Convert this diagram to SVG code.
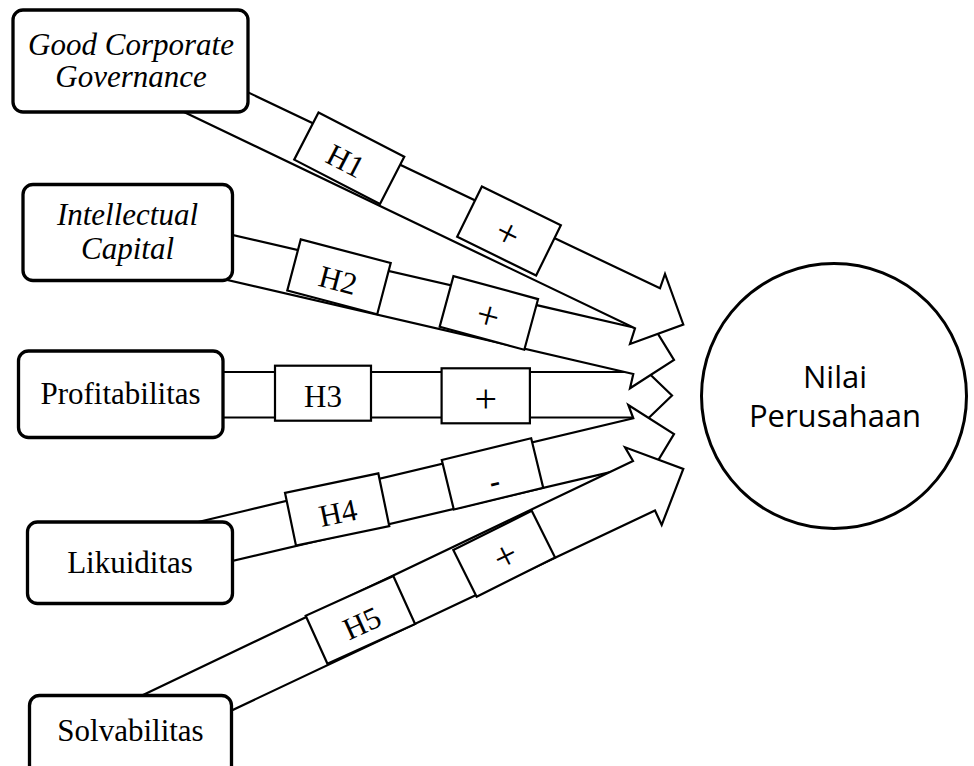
<svg xmlns="http://www.w3.org/2000/svg" width="974" height="766" viewBox="0 0 974 766">
<style>
.box{fill:#fff;stroke:#000;stroke-width:3.3}
.t{font-family:"Liberation Serif","Times New Roman",serif;font-size:31px;fill:#000;text-anchor:middle}
.i{font-style:italic}
.p{font-size:40px}
.arrow{fill:#fff;stroke:#000;stroke-width:2.2;stroke-linejoin:miter}
.lbl rect{fill:#fff;stroke:#000;stroke-width:2.2}
.sans{font-family:"Open Sans","Noto Sans",sans-serif;font-size:31px;fill:#000;text-anchor:middle}
</style>
<rect width="974" height="766" fill="#fff"/>
<g id="connectors">
  <g id="arrow-H3">
    <polygon class="arrow" points="150,372 632,372 632,357 672,395.5 632,434 632,417.5 150,417.5"/>
    <g class="lbl" transform="translate(323,393.2)"><rect x="-48" y="-27.5" width="96" height="55"/><text class="t" x="0" y="13.5">H3</text></g>
    <g class="lbl" transform="translate(485.8,395.8)"><rect x="-44.2" y="-27.5" width="88.3" height="55"/><text class="t p" x="0" y="16">+</text></g>
  </g>
  <g id="arrow-H2">
    <polygon class="arrow" points="150,216 643.4,329.7 646.6,315.4 674,360 630,388.3 633.3,374 140,259.7"/>
    <g class="lbl" transform="translate(339,276.8) rotate(14.75)"><rect x="-46.5" y="-26.5" width="93" height="53"/><text class="t" x="0" y="14">H2</text></g>
    <g class="lbl" transform="translate(488.9,313) rotate(15.2)"><rect x="-43.9" y="-26.3" width="87.7" height="52.5"/><text class="t p" x="0" y="16">+</text></g>
  </g>
  <g id="arrow-H4">
    <polygon class="arrow" points="150,533.5 633.3,418.3 628.3,405 674,434 646.1,480.4 642.4,464.6 160,578"/>
    <g class="lbl" transform="translate(337.2,509.4) rotate(-11.75)"><rect x="-47.7" y="-26.9" width="95.3" height="53.8"/><text class="t" x="0" y="14">H4</text></g>
    <g class="lbl" transform="translate(492.5,473.9) rotate(-13.66)"><rect x="-46" y="-25.5" width="92" height="51"/><text class="t" x="0" y="18" style="font-weight:bold">-</text></g>
  </g>
  <g id="arrow-H1">
    <polygon class="arrow" points="170,55.2 660,288.3 665,274 683.3,324.5 630,344 635,328.3 150,95.7"/>
    <g class="lbl" transform="translate(349.2,158.2) rotate(27.3)"><rect x="-48.2" y="-26.5" width="96.5" height="53"/><text class="t" x="-2" y="14.5">H1</text></g>
    <g class="lbl" transform="translate(509,231) rotate(26.2)"><rect x="-44" y="-28" width="88" height="56"/><text class="t p" x="0" y="16">+</text></g>
  </g>
  <g id="arrow-H5">
    <polygon class="arrow" points="120,706 633,461 625,447.3 683.3,469 661.7,525 655,510.5 150,749"/>
    <g class="lbl" transform="translate(360.4,619.9) rotate(-24.38)"><rect x="-48.1" y="-26.4" width="96.2" height="52.7"/><text class="t" x="0" y="14">H5</text></g>
    <g class="lbl" transform="translate(504.2,553.7) rotate(-26.6)"><rect x="-43.9" y="-26" width="87.7" height="52.1"/><text class="t p" x="0" y="16">+</text></g>
  </g>
</g>
<g id="node-gcg">
  <rect class="box" x="13" y="10" width="235" height="102" rx="10"/>
  <text class="t i" x="131" y="55">Good Corporate</text>
  <text class="t i" x="131" y="87">Governance</text>
</g>
<g id="node-ic">
  <rect class="box" x="23" y="184.5" width="209.5" height="96" rx="10"/>
  <text class="t i" x="127.5" y="225">Intellectual</text>
  <text class="t i" x="127.5" y="258.5">Capital</text>
</g>
<g id="node-profitabilitas">
  <rect class="box" x="18.5" y="351" width="204.5" height="86.5" rx="10"/>
  <text class="t" x="120.5" y="404">Profitabilitas</text>
</g>
<g id="node-likuiditas">
  <rect class="box" x="27.5" y="522" width="205" height="81.5" rx="10"/>
  <text class="t" x="130" y="572.5">Likuiditas</text>
</g>
<g id="node-solvabilitas">
  <rect class="box" x="29.5" y="695.5" width="202" height="100" rx="10"/>
  <text class="t" x="130.5" y="740.5">Solvabilitas</text>
</g>
<g id="node-nilai">
  <circle cx="834" cy="396" r="132.5" fill="#fff" stroke="#000" stroke-width="3"/>
  <text class="sans" x="835" y="388">Nilai</text>
  <text class="sans" x="835" y="426.5">Perusahaan</text>
</g>
</svg>
